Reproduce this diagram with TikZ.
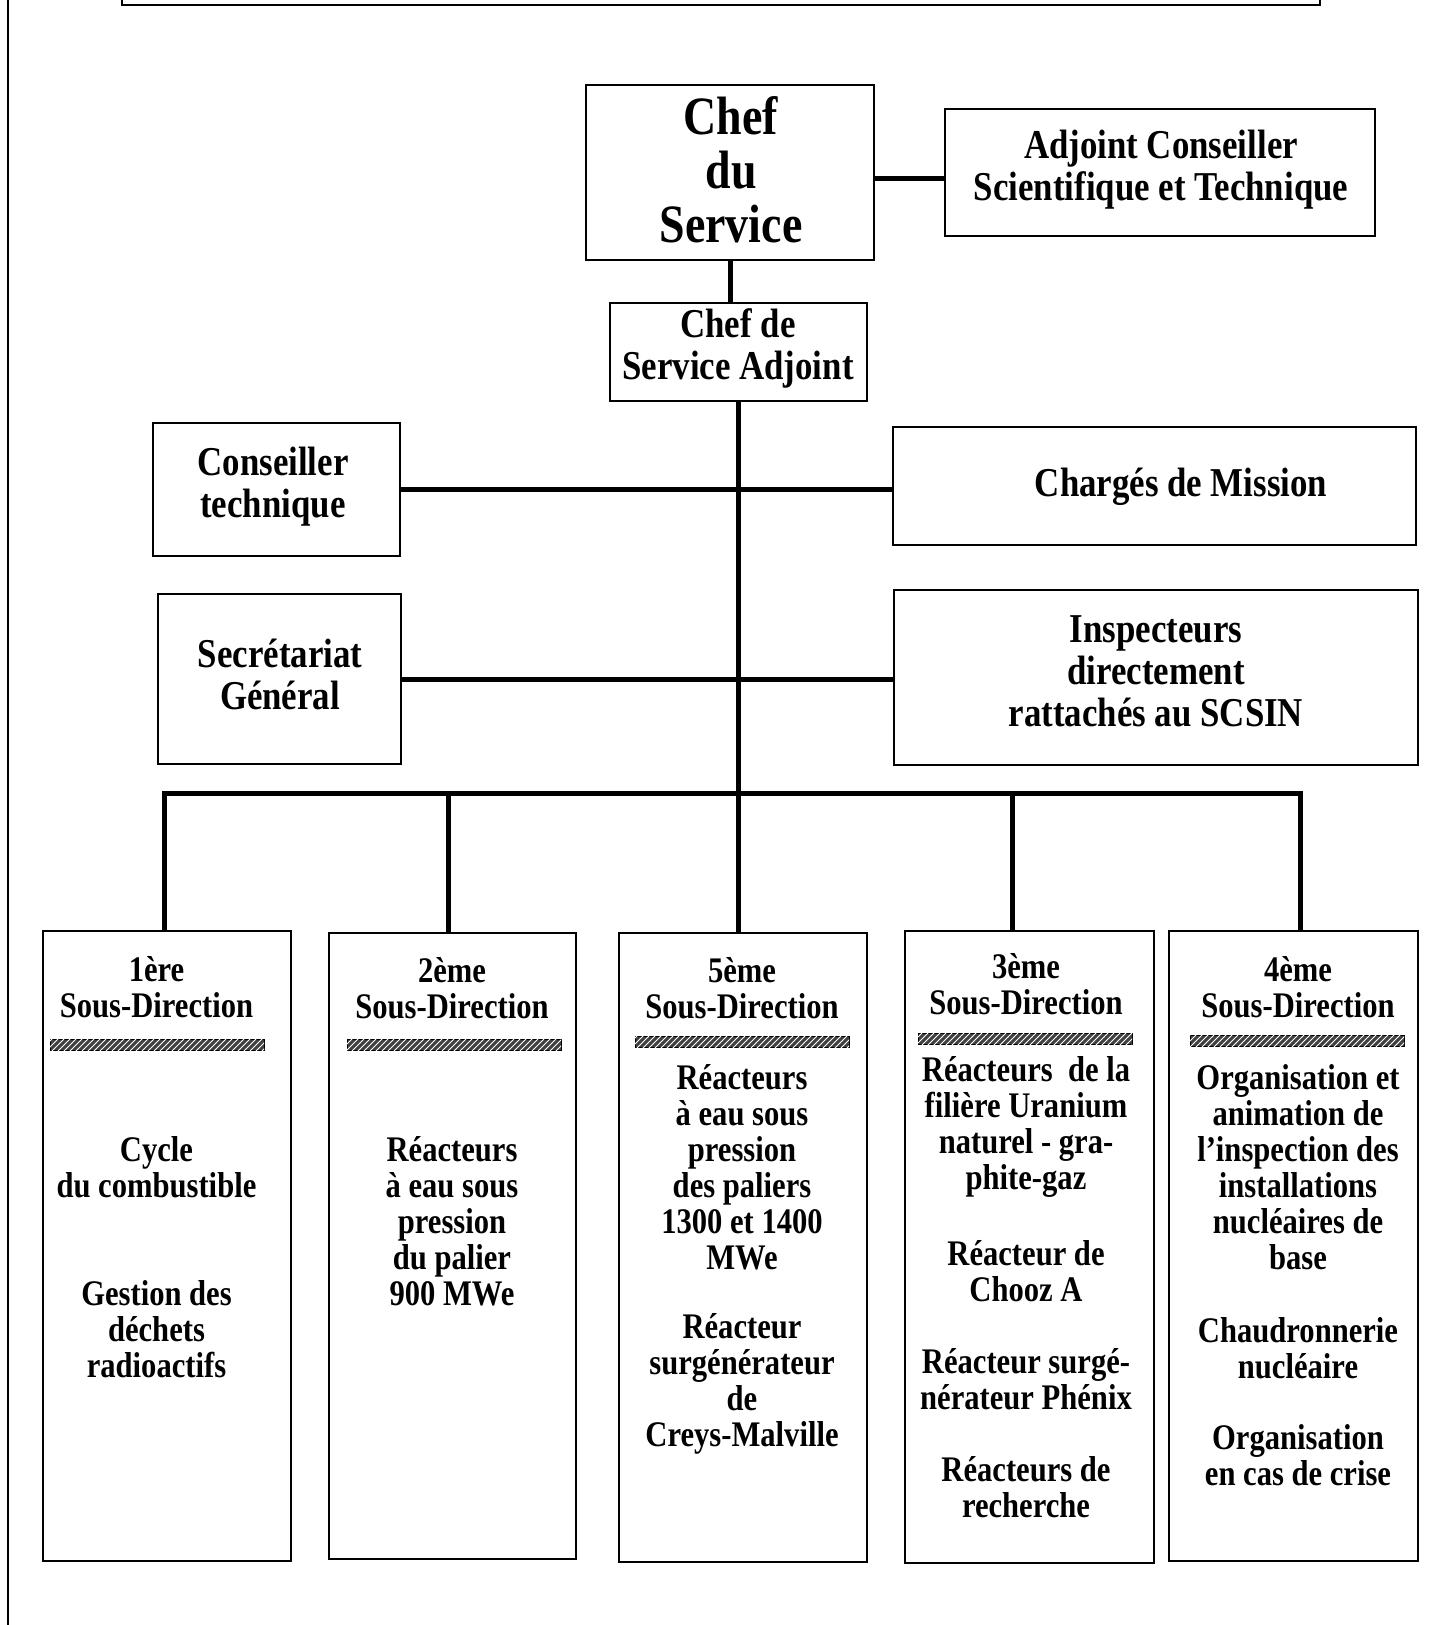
\documentclass[tikz,border=0pt]{standalone}
\usepackage{fontspec}
\setmainfont[FakeStretch=0.85]{Liberation Serif}
\usetikzlibrary{fit,patterns}
\begin{document}
\begin{tikzpicture}[x=0.5pt,y=-0.5pt,
  box/.style={draw,line width=1pt,inner sep=0pt,rectangle},
  conn/.style={line width=2.5pt},
  big/.style={font=\bfseries\fontsize{27}{27}\selectfont,align=center,inner sep=0pt},
  mid/.style={font=\bfseries\fontsize{20.5}{21}\selectfont,align=center,inner sep=0pt},
  small/.style={font=\bfseries\fontsize{18}{18}\selectfont,align=center,inner sep=0pt},
  hbar/.style={draw,line width=0.5pt,fill=black!75,minimum width=107pt,minimum height=5.75pt,inner sep=0pt,
    postaction={pattern=north east lines,pattern color=white}}]
\useasboundingbox (0,0) rectangle (1445,1625);
% frame remnants
\draw[line width=0.8pt] (8,0) -- (8,1625);
\draw[line width=1.3pt] (122,-5) -- (122,5) -- (1320,5) -- (1320,-5);
% boxes
\node[box,fit={(586,85) (874,260)}] (chef) {};
\node[box,fit={(945,109) (1375,236)}] (adj) {};
\node[box,fit={(610,303) (867,401)}] (csa) {};
\node[box,fit={(153,423) (400,556)}] (ct) {};
\node[box,fit={(893,427) (1416,545)}] (cm) {};
\node[box,fit={(158,594) (401,764)}] (sg) {};
\node[box,fit={(894,590) (1418,765)}] (insp) {};
\node[box,fit={(43,931) (291,1561)}] (sd1) {};
\node[box,fit={(329,933) (576,1559)}] (sd2) {};
\node[box,fit={(619,933) (867,1562)}] (sd5) {};
\node[box,fit={(905,931) (1154,1563)}] (sd3) {};
\node[box,fit={(1169,931) (1418,1561)}] (sd4) {};
% texts top
\node[big] (tchef) at (731,170) {Chef\\du\\Service};
\node[mid] (tadj) at (1161,170) {Adjoint Conseiller\\Scientifique et Technique};
\node[mid] (tcsa) at (738,348) {Chef de\\Service Adjoint};
\node[mid] (tct) at (273,487) {Conseiller\\technique};
\node[mid] (tcm) at (1181,487) {Chargés de Mission};
\node[mid] (tsg) at (280,674) {Secrétariat\\Général};
\node[mid] (tinsp) at (1156,671) {Inspecteurs\\directement\\rattachés au SCSIN};
% connectors
\draw[conn] ([yshift=-3pt]chef.east) -- ([yshift=-3pt]adj.west);
\draw[conn] (chef.south) -- (chef.south |- csa.north);
\draw[conn] (csa.south) -- (csa.south |- sd5.north);
\draw[conn] (ct.east) -- (ct.east -| cm.west);
\draw[conn] (sg.east) -- (sg.east -| insp.west);
\coordinate (b1) at (164,793);
\coordinate (b2) at (448,793);
\coordinate (b3) at (1012,793);
\coordinate (b4) at (1300,793);
\draw[conn] (b1 |- sd1.north) -- (b1) -- (b4) -- (b4 |- sd4.north);
\draw[conn] (b2) -- (b2 |- sd2.north);
\draw[conn] (b3) -- (b3 |- sd3.north);
% sub-direction 1
\node[small] (t1a) at (156.5,987) {1ère\\Sous-Direction};
\node[hbar] (bar1) at (157,1045) {};
\node[small] (t1b) at (156.5,1167) {Cycle\\du combustible};
\node[small] (t1c) at (156.5,1329) {Gestion des\\déchets\\radioactifs};
% sub-direction 2
\node[small] (t2a) at (452,988) {2ème\\Sous-Direction};
\node[hbar] (bar2) at (454,1045) {};
\node[small] (t2b) at (452,1221) {Réacteurs\\à eau sous\\pression\\du palier\\900 MWe};
% sub-direction 5
\node[small] (t5a) at (742,988) {5ème\\Sous-Direction};
\node[hbar] (bar5) at (742,1042) {};
\node[small] (t5b) at (742,1167) {Réacteurs\\à eau sous\\pression\\des paliers\\1300 et 1400\\MWe};
\node[small] (t5c) at (742,1384) {Réacteur\\surgénérateur\\de\\Creys-Malville};
% sub-direction 3
\node[small] (t3a) at (1026,984) {3ème\\Sous-Direction};
\node[hbar] (bar3) at (1025,1039) {};
\node[small] (t3b) at (1026,1127) {Réacteurs\ \ de la\\filière Uranium\\naturel - gra-\\phite-gaz};
\node[small] (t3c) at (1026,1271) {Réacteur de\\Chooz A};
\node[small] (t3d) at (1026,1379) {Réacteur surgé-\\nérateur Phénix};
\node[small] (t3e) at (1026,1487) {Réacteurs de\\recherche};
% sub-direction 4
\node[small] (t4a) at (1298,987) {4ème\\Sous-Direction};
\node[hbar] (bar4) at (1297,1041) {};
\node[small] (t4b) at (1298,1167) {Organisation et\\animation de\\l{\char"27}inspection des\\installations\\nucléaires de\\base};
\node[small] (t4c) at (1298,1348) {Chaudronnerie\\nucléaire};
\node[small] (t4d) at (1298,1455) {Organisation\\en cas de crise};
\end{tikzpicture}
\end{document}
